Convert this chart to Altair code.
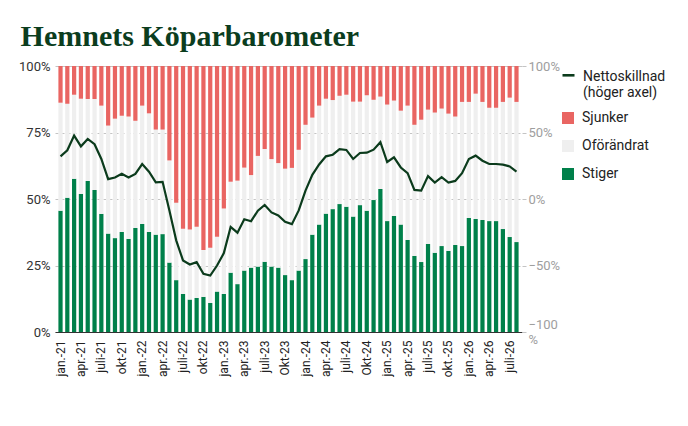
import altair as alt
import pandas as pd

# 68 months: jan 2021 .. aug 2026
months = [f"{y}-{m:02d}" for y in range(2021, 2027) for m in range(1, 13)][:68]
tick_months = months[::3]
tick_labels = ["jan.-21", "apr.-21", "juli-21", "okt-21", "jan.-22", "apr.-22",
               "juli-22", "okt-22", "jan.-23", "apr.-23", "juli-23", "Okt-23",
               "jan.-24", "apr.-24", "juli-24", "Okt-24", "jan.-25", "apr.-25",
               "juli-25", "okt.-25", "jan.-26", "apr.-26", "juli-26"]

stiger = [45.6, 50.5, 57.6, 51.9, 56.8, 53.4, 44.4, 37.0, 35.3, 37.6, 35.0, 39.1,
          40.6, 37.6, 36.6, 36.8, 26.1, 19.5, 14.3, 12.2, 12.8, 13.2, 10.9, 15.2,
          14.3, 22.3, 18.0, 23.1, 24.2, 24.6, 26.4, 24.6, 24.2, 21.4, 19.5, 23.1,
          27.4, 36.6, 40.4, 44.5, 46.2, 48.1, 47.1, 43.4, 47.7, 45.6, 49.6, 53.8,
          41.7, 43.6, 40.4, 34.6, 28.6, 26.3, 33.1, 29.8, 32.3, 30.5, 32.7, 32.3,
          42.9, 42.5, 42.1, 41.7, 41.7, 38.7, 35.7, 33.8]
sjunker = [13.8, 14.2, 10.8, 12.3, 12.4, 12.4, 14.9, 22.4, 19.8, 18.7, 19.0, 20.6,
           14.9, 17.8, 23.9, 23.9, 35.5, 51.4, 61.2, 61.5, 60.4, 69.2, 68.3, 64.2,
           53.6, 43.5, 43.1, 38.2, 41.0, 33.8, 31.2, 35.0, 36.5, 38.6, 38.3, 31.5,
           22.1, 19.4, 14.9, 12.3, 12.8, 11.2, 10.8, 13.4, 13.4, 11.0, 12.7, 11.5,
           14.5, 13.0, 16.8, 14.9, 22.1, 20.2, 16.4, 17.5, 16.0, 17.9, 19.0, 13.5,
           13.5, 10.4, 13.5, 15.7, 15.7, 13.5, 11.9, 13.5]
netto = [32.1, 36.6, 47.7, 39.6, 45.2, 41.2, 30.1, 14.9, 16.2, 18.9, 16.2, 18.9,
         26.3, 20.5, 12.6, 12.9, -8.6, -31.1, -46.2, -49.2, -47.5, -56.3, -57.6, -50.0,
         -40.7, -21.0, -25.3, -15.2, -16.7, -8.8, -4.5, -10.1, -12.4, -17.2, -18.9, -8.6,
         6.3, 18.2, 26.0, 32.1, 33.3, 37.4, 36.9, 30.1, 34.6, 34.8, 37.1, 42.7,
         27.8, 31.3, 23.7, 19.4, 6.8, 6.3, 17.2, 12.4, 16.4, 12.4, 13.6, 19.4,
         30.1, 32.6, 28.8, 26.3, 26.3, 25.8, 24.5, 20.5]

categories = ["Sjunker", "Oförändrat", "Stiger"]
colors = ["#e96562", "#efefef", "#00804a"]
line_name = "Nettoskillnad|(höger axel)"

rows = []
for m, s, j in zip(months, stiger, sjunker):
    rows.append({"m": m, "kat": "Stiger", "v": s, "o": 0})
    rows.append({"m": m, "kat": "Oförändrat", "v": round(100 - s - j, 1), "o": 1})
    rows.append({"m": m, "kat": "Sjunker", "v": j, "o": 2})
bars_df = pd.DataFrame(rows)
line_df = pd.DataFrame({"m": months, "netto": netto, "serie": [line_name] * len(months)})

keys_js = "[" + ",".join(f"'{k}'" for k in tick_months) + "]"
labs_js = "[" + ",".join(f"'{l}'" for l in tick_labels) + "]"

x_enc = alt.X(
    "m:O", sort=months,
    scale=alt.Scale(paddingInner=0.38, paddingOuter=0.5),
    axis=alt.Axis(values=tick_months, labelExpr=f"{labs_js}[indexof({keys_js}, datum.value)]",
                  labelAngle=-90, title=None, ticks=False, domainColor="#333333",
                  labelColor="#222222", labelFontSize=12, labelPadding=8),
)

bars = alt.Chart(bars_df).mark_bar().encode(
    x=x_enc,
    y=alt.Y("v:Q", stack="zero", scale=alt.Scale(domain=[0, 100], nice=False),
            axis=alt.Axis(values=[0, 25, 50, 75, 100], labelExpr="datum.value + '%'",
                          title=None, domain=False, ticks=False, gridColor="#c4c4c4",
                          gridDash={"condition": {"test": "datum.value == 100", "value": []},
                                    "value": [3, 3]},
                          labelColor="#333333", labelFontSize=13, labelPadding=5)),
    color=alt.Color("kat:N", scale=alt.Scale(domain=categories, range=colors),
                    legend=alt.Legend(orient="none", legendX=506, legendY=45, title=None,
                                      symbolType="square", symbolSize=144, symbolStrokeWidth=0,
                                      labelFontSize=14, labelColor="#222222", labelOffset=7,
                                      rowPadding=14, padding=0)),
    order=alt.Order("o:Q"),
)

line = alt.Chart(line_df).mark_line(strokeWidth=2.2).encode(
    x=x_enc,
    y=alt.Y("netto:Q", scale=alt.Scale(domain=[-100, 100], nice=False),
            axis=alt.Axis(orient="right", values=[-100, -50, 0, 50, 100],
                          labelExpr="datum.value == -100 ? ['\u2212100', '%'] : format(datum.value, 'd') + '%'",
                          labelOffset={"condition": {"test": "datum.value == -100", "value": -8},
                                       "value": 0},
                          title=None, grid=False, domain=False, tickColor="#c4c4c4", tickSize=4,
                          labelColor="#9e9e9e", labelFontSize=13, labelPadding=2)),
    stroke=alt.Stroke("serie:N", scale=alt.Scale(domain=[line_name], range=["#0b3b1c"]),
                      legend=alt.Legend(orient="none", legendX=506, legendY=3, title=None,
                                        symbolType="M-1,-0.2H1", symbolSize=144,
                                        symbolStrokeWidth=2.6, labelExpr="split(datum.label, '|')",
                                        labelFontSize=14, labelColor="#222222", labelOffset=7,
                                        padding=0)),
)

chart = alt.layer(bars, line).resolve_scale(y="independent").properties(
    width=467, height=266,
    title=alt.Title("Hemnets Köparbarometer", anchor="start", frame="bounds",
                    font="Liberation Serif", fontSize=30, fontWeight="bold",
                    color="#0b3d1e", baseline="alphabetic", offset=-16, dx=2),
    padding={"left": 47, "top": 58, "right": 150, "bottom": 80},
    autosize=alt.AutoSizeParams(type="none"),
).configure(font="Roboto").configure_view(stroke=None).configure_axis(
    labelFont="Roboto").configure_legend(labelFont="Roboto")

chart.save("out.html", embed_options={"renderer": "svg", "actions": False})
